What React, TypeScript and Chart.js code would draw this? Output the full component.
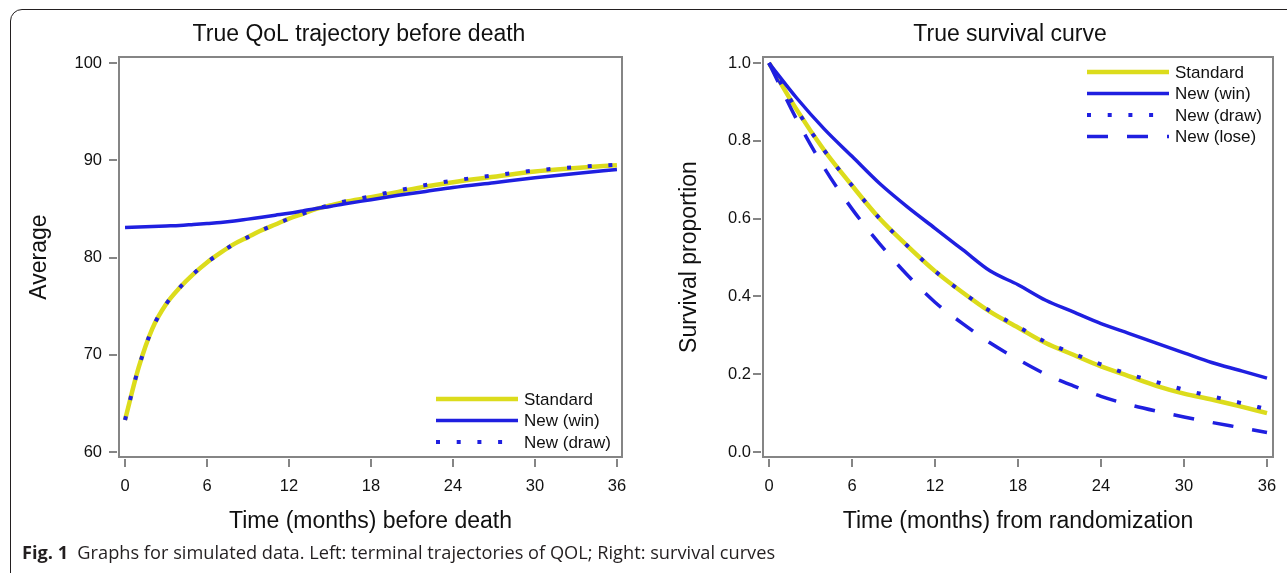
import React, { useEffect, useLayoutEffect, useRef } from "react";
import { Chart, registerables } from "chart.js";

Chart.register(...registerables);

const FONT = '"Liberation Sans", Arial, Helvetica, sans-serif';

// ---- tick values ----
const monthTicks = [0, 6, 12, 18, 24, 30, 36];
const qolTicks = [60, 70, 80, 90, 100];
const survTicks = [0, 0.2, 0.4, 0.6, 0.8, 1.0];

// ---- series labels ----
const seriesLabels = ["Standard", "New (win)", "New (draw)", "New (lose)"];

// ---- left panel: QoL trajectory before death ----
const qolMonths = [0, 1, 2, 3, 4, 5, 6, 7, 8, 9, 10, 11, 12, 13, 14, 15, 16, 18, 20, 22, 24, 27, 30, 33, 36];
const qolStandard = [63.3, 68.7, 72.7, 75.2, 76.9, 78.3, 79.5, 80.5, 81.4, 82.1, 82.8, 83.4, 84.0, 84.5, 85.0, 85.35, 85.7, 86.2, 86.75, 87.3, 87.75, 88.3, 88.85, 89.2, 89.5];
const qolWin = [83.1, 83.15, 83.2, 83.25, 83.3, 83.4, 83.5, 83.6, 83.75, 83.95, 84.15, 84.35, 84.55, 84.8, 85.05, 85.25, 85.5, 85.95, 86.4, 86.8, 87.2, 87.7, 88.2, 88.65, 89.05];
const qolDraw = [63.3, 68.7, 72.7, 75.2, 76.9, 78.3, 79.5, 80.5, 81.4, 82.1, 82.8, 83.4, 84.0, 84.5, 85.0, 85.4, 85.75, 86.3, 86.9, 87.45, 87.9, 88.45, 88.95, 89.3, 89.55];

// ---- right panel: survival ----
const survMonths = [0, 2, 4, 6, 8, 10, 12, 14, 16, 18, 20, 22, 24, 26, 28, 30, 32, 34, 36];
const survStandard = [1.0, 0.88, 0.775, 0.685, 0.6, 0.53, 0.465, 0.41, 0.36, 0.32, 0.28, 0.25, 0.22, 0.195, 0.17, 0.15, 0.135, 0.118, 0.1];
const survWin = [1.0, 0.91, 0.83, 0.76, 0.69, 0.63, 0.575, 0.52, 0.465, 0.43, 0.39, 0.36, 0.33, 0.305, 0.28, 0.255, 0.23, 0.21, 0.19];
const survDraw = [1.0, 0.88, 0.775, 0.685, 0.6, 0.53, 0.465, 0.41, 0.362, 0.322, 0.283, 0.253, 0.225, 0.2, 0.18, 0.16, 0.143, 0.127, 0.11];
const survLose = [1.0, 0.855, 0.73, 0.625, 0.535, 0.455, 0.385, 0.33, 0.28, 0.238, 0.2, 0.17, 0.143, 0.122, 0.105, 0.09, 0.076, 0.063, 0.05];

// ---- styles ----
const YELLOW = "#dcdc1c";
const BLUE = "#1f1fe0";
const AXIS_GRAY = "#858585";
const seriesStyles = [
  { borderColor: YELLOW, borderWidth: 4.5, borderDash: [] as number[], order: 4 },
  { borderColor: BLUE, borderWidth: 3.5, borderDash: [] as number[], order: 3 },
  { borderColor: BLUE, borderWidth: 4, borderDash: [4, 16.7], order: 1 },
  { borderColor: BLUE, borderWidth: 3.5, borderDash: [21, 19], order: 2 },
];

const toPoints = (xs: number[], ys: number[]) => xs.map((x, i) => ({ x, y: ys[i] }));

const makeDataset = (idx: number, xs: number[], ys: number[]) => ({
  label: seriesLabels[idx],
  data: toPoints(xs, ys),
  ...seriesStyles[idx],
  fill: false,
  pointRadius: 0,
  borderCapStyle: "butt",
  borderJoinStyle: "round",
  cubicInterpolationMode: "monotone",
});

const framePlugin = {
  id: "frameTicks",
  afterDraw(chart: any) {
    const { ctx, chartArea: a } = chart;
    const xs = chart.scales.x;
    const ys = chart.scales.y;
    ctx.save();
    ctx.strokeStyle = AXIS_GRAY;
    ctx.lineWidth = 2;
    ctx.setLineDash([]);
    ctx.strokeRect(a.left, a.top, a.right - a.left, a.bottom - a.top);
    ctx.beginPath();
    xs.ticks.forEach((t: any) => {
      const px = Math.round(xs.getPixelForValue(t.value));
      ctx.moveTo(px, a.bottom + 2);
      ctx.lineTo(px, a.bottom + 10);
    });
    ys.ticks.forEach((t: any) => {
      const py = Math.round(ys.getPixelForValue(t.value));
      ctx.moveTo(a.left - 2, py);
      ctx.lineTo(a.left - 10, py);
    });
    ctx.stroke();
    ctx.restore();
  },
};

const insetLegendPlugin = {
  id: "insetLegend",
  afterDraw(chart: any, _args: any, opts: any) {
    const { ctx, chartArea: a } = chart;
    const ds = chart.data.datasets;
    const rowH = 21.5;
    const n = ds.length;
    const firstY = opts.corner === "top" ? a.top + 15 : a.bottom - 15 - (n - 1) * rowH;
    ctx.save();
    ds.forEach((d: any, i: number) => {
      const y = firstY + i * rowH;
      ctx.strokeStyle = d.borderColor;
      ctx.lineWidth = d.borderWidth;
      ctx.lineCap = "butt";
      ctx.setLineDash(d.borderDash || []);
      ctx.beginPath();
      ctx.moveTo(a.right - 186, y);
      ctx.lineTo(a.right - 104, y);
      ctx.stroke();
      ctx.setLineDash([]);
      ctx.fillStyle = "#111";
      ctx.font = `17px ${FONT}`;
      ctx.textBaseline = "middle";
      ctx.textAlign = "left";
      ctx.fillText(d.label, a.right - 98, y + 1);
    });
    ctx.restore();
  },
};

type PanelProps = {
  title: string;
  xTitle: string;
  yTitle: string;
  xRange: [number, number];
  yRange: [number, number];
  xTicks: number[];
  yTicks: number[];
  yFmt: (v: number) => string;
  yAxisWidth: number;
  yLabelPad: number;
  rightPad: number;
  datasets: any[];
  legendCorner: "top" | "bottom";
  left: number;
  width: number;
};

function Panel(p: PanelProps) {
  const ref = useRef<HTMLCanvasElement>(null);
  useEffect(() => {
    if (!ref.current) return;
    const chart = new Chart(ref.current, {
      type: "line",
      data: { datasets: p.datasets },
      plugins: [framePlugin, insetLegendPlugin],
      options: {
        responsive: false,
        animation: false,
        devicePixelRatio: 1,
        layout: { padding: 0 },
        plugins: {
          legend: { display: false },
          tooltip: { enabled: false },
          title: {
            display: true,
            text: p.title,
            color: "#111",
            font: { family: FONT, size: 23, weight: "normal" },
            padding: { top: 21, bottom: 8.4 },
          },
          insetLegend: { corner: p.legendCorner },
        } as any,
        scales: {
          x: {
            type: "linear",
            min: p.xRange[0],
            max: p.xRange[1],
            afterBuildTicks: (s: any) => {
              s.ticks = p.xTicks.map((v) => ({ value: v }));
            },
            afterFit: (s: any) => {
              s.height = 116;
            },
            ticks: {
              autoSkip: false,
              maxRotation: 0,
              padding: 20,
              color: "#111",
              font: { family: FONT, size: 16.5 },
              callback: (v: any) => String(v),
            },
            grid: { display: false, drawTicks: false },
            border: { display: false },
            title: {
              display: true,
              text: p.xTitle,
              color: "#111",
              font: { family: FONT, size: 23 },
              padding: { top: 0, bottom: 38 },
            },
          },
          y: {
            type: "linear",
            position: "left",
            min: p.yRange[0],
            max: p.yRange[1],
            afterBuildTicks: (s: any) => {
              s.ticks = p.yTicks.map((v) => ({ value: v }));
            },
            afterFit: (s: any) => {
              s.width = p.yAxisWidth;
            },
            ticks: {
              autoSkip: false,
              padding: p.yLabelPad,
              color: "#111",
              font: { family: FONT, size: 16.5 },
              callback: (v: any) => p.yFmt(Number(v)),
            },
            grid: { display: false, drawTicks: false },
            border: { display: false },
            title: {
              display: true,
              text: p.yTitle,
              color: "#111",
              font: { family: FONT, size: 23 },
              padding: { top: 26, bottom: 0 },
            },
          },
          pad: {
            type: "linear",
            position: "right",
            display: true,
            afterFit: (s: any) => {
              s.width = p.rightPad;
            },
            ticks: { display: false },
            grid: { display: false, drawTicks: false },
            border: { display: false },
          },
        },
      } as any,
    });
    return () => chart.destroy();
  }, []);
  return (
    <canvas
      ref={ref}
      width={p.width}
      height={573}
      style={{ position: "absolute", left: p.left, top: 0, width: p.width, height: 573 }}
    />
  );
}

function Caption() {
  const ref = useRef<HTMLDivElement>(null);
  useLayoutEffect(() => {
    const el = ref.current;
    if (!el) return;
    el.style.transform = "none";
    const w = el.scrollWidth;
    if (w > 0) el.style.transform = `scaleX(${753 / w})`;
  }, []);
  return (
    <div
      ref={ref}
      style={{
        position: "absolute",
        left: 22,
        top: 541,
        whiteSpace: "nowrap",
        transformOrigin: "0 0",
        fontFamily: '"Open Sans", "Noto Sans", sans-serif',
        fontSize: 18,
        lineHeight: "22px",
        color: "#231f20",
      }}
    >
      <b>Fig. 1</b>
      <span style={{ marginLeft: 9 }}>
        Graphs for simulated data. Left: terminal trajectories of QOL; Right: survival curves
      </span>
    </div>
  );
}

export default function App() {
  const leftDatasets = [
    makeDataset(0, qolMonths, qolStandard),
    makeDataset(1, qolMonths, qolWin),
    makeDataset(2, qolMonths, qolDraw),
  ];
  const rightDatasets = [
    makeDataset(0, survMonths, survStandard),
    makeDataset(1, survMonths, survWin),
    makeDataset(2, survMonths, survDraw),
    makeDataset(3, survMonths, survLose),
  ];
  return (
    <div
      style={{
        position: "absolute",
        left: 0,
        top: 0,
        width: 1287,
        height: 573,
        overflow: "hidden",
        background: "#fff",
      }}
    >
      <div
        style={{
          position: "absolute",
          left: 10,
          top: 9,
          width: 1400,
          height: 700,
          border: "1px solid #231f20",
          borderRadius: 12,
        }}
      />
      <Panel
        title="True QoL trajectory before death"
        xTitle="Time (months) before death"
        yTitle="Average"
        xRange={[-0.44, 36.37]}
        yRange={[59.49, 100.62]}
        xTicks={monthTicks}
        yTicks={qolTicks}
        yFmt={(v) => String(v)}
        yAxisWidth={119}
        yLabelPad={17}
        rightPad={96}
        datasets={leftDatasets}
        legendCorner="bottom"
        left={0}
        width={718}
      />
      <Panel
        title="True survival curve"
        xTitle="Time (months) from randomization"
        yTitle="Survival proportion"
        xRange={[-0.434, 36.434]}
        yRange={[-0.0129, 1.0154]}
        xTicks={monthTicks}
        yTicks={survTicks}
        yFmt={(v) => v.toFixed(1)}
        yAxisWidth={113}
        yLabelPad={12}
        rightPad={97}
        datasets={rightDatasets}
        legendCorner="top"
        left={650}
        width={720}
      />
      <Caption />
    </div>
  );
}
